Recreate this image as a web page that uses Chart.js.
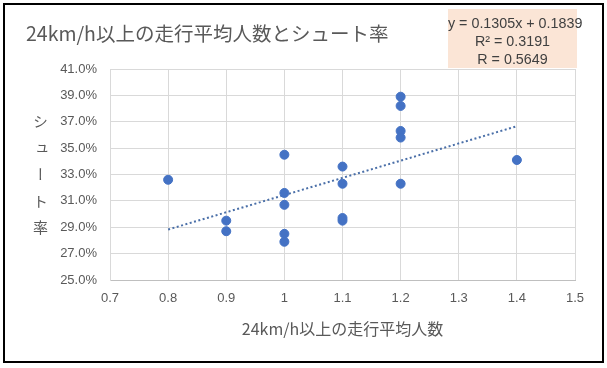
<!DOCTYPE html>
<html lang="ja">
<head>
<meta charset="UTF-8">
<title>24km/h以上の走行平均人数とシュート率</title>
<script src="https://cdn.jsdelivr.net/npm/chart.js"></script>
<style>
    body { margin: 0; background: #fff; }
    .wrap { position: relative; width: 607px; height: 368px; }
    .frame {
        position: absolute; left: 3px; top: 3px;
        width: 601px; height: 360px;
        box-sizing: border-box; border: 2px solid #000;
        pointer-events: none;
    }
    .title {
        position: absolute; left: 26px; top: 20px;
        font-family: "Noto Sans CJK JP", sans-serif;
        font-size: 19.5px; color: #595959; line-height: 26px;
        white-space: nowrap;
    }
    .eq {
        position: absolute; left: 448px; top: 9px;
        width: 129px; height: 59px;
        background: #fbe5d6;
        font-family: "Liberation Sans", sans-serif;
        font-size: 14.3px; color: #404040;
        text-align: center; line-height: 18px;
        padding-top: 5px; box-sizing: border-box;
        white-space: nowrap;
    }
    .ytitle {
        position: absolute; left: 31px; top: 114px;
        writing-mode: vertical-rl; text-orientation: upright;
        font-family: "Noto Sans CJK JP", sans-serif;
        font-size: 15px; color: #595959; letter-spacing: 11.5px;
        line-height: 18px;
    }
    canvas { position: absolute; left: 0; top: 0; }
</style>
</head>
<body>
<div class="wrap">
    <canvas id="chart" width="607" height="368"></canvas>
    <div class="title">24km/h以上の走行平均人数とシュート率</div>
    <div class="eq">y = 0.1305x + 0.1839<br>R² = 0.3191<br>R = 0.5649</div>
    <div class="ytitle">シュート率</div>
    <div class="frame"></div>
</div>
<script>
    // average number of players running >= 24km/h
    const runners = [0.8, 0.9, 0.9, 1.0, 1.0, 1.0, 1.0, 1.0, 1.1, 1.1, 1.1, 1.1, 1.2, 1.2, 1.2, 1.2, 1.2, 1.4];
    // shot rate (%)
    const shotRate = [32.6, 29.5, 28.7, 34.5, 31.6, 30.7, 28.5, 27.9, 33.6, 32.3, 29.7, 29.5, 38.9, 38.2, 36.3, 35.8, 32.3, 34.1];
    // linear trend line end points
    const trendX = [0.8, 1.4];
    const trendY = [28.83, 36.66];

    const xTitle = '24km/h以上の走行平均人数';
    const blue = '#4472c4';
    const gray = '#595959';
    const gridColor = '#d9d9d9';

    const ctx = document.getElementById('chart').getContext('2d');
    new Chart(ctx, {
        type: 'scatter',
        data: {
            datasets: [
                {
                    label: 'shot rate',
                    data: runners.map((x, i) => ({ x: x, y: shotRate[i] })),
                    backgroundColor: blue,
                    borderColor: blue,
                    pointRadius: 4.5,
                    pointHoverRadius: 4.5
                },
                {
                    label: 'trend',
                    type: 'line',
                    data: trendX.map((x, i) => ({ x: x, y: trendY[i] })),
                    borderColor: '#4a6fa8',
                    borderWidth: 2,
                    borderDash: [2, 2.5],
                    pointRadius: 0,
                    fill: false
                }
            ]
        },
        options: {
            responsive: false,
            animation: false,
            layout: { padding: { top: 69, right: 32, left: 0, bottom: 0 } },
            plugins: { legend: { display: false }, tooltip: { enabled: false } },
            scales: {
                x: {
                    type: 'linear',
                    min: 0.7, max: 1.5,
                    afterFit: s => { s.height = 88; },
                    grid: { color: gridColor, drawTicks: false },
                    border: { color: '#bfbfbf' },
                    ticks: {
                        stepSize: 0.1, padding: 11,
                        color: gray,
                        font: { family: 'Liberation Sans', size: 13 },
                        callback: v => String(Number(v.toFixed(1)))
                    },
                    title: {
                        display: true, text: xTitle, color: gray,
                        font: { family: 'Noto Sans CJK JP', size: 16 },
                        padding: { top: 0, bottom: 29 }
                    }
                },
                y: {
                    min: 25, max: 41,
                    afterFit: s => { s.width = 110; },
                    grid: { color: gridColor, drawTicks: false },
                    border: { color: gridColor },
                    ticks: {
                        stepSize: 2, padding: 13,
                        color: gray,
                        font: { family: 'Liberation Sans', size: 13 },
                        callback: v => v.toFixed(1) + '%'
                    }
                }
            }
        }
    });
</script>
</body>
</html>
